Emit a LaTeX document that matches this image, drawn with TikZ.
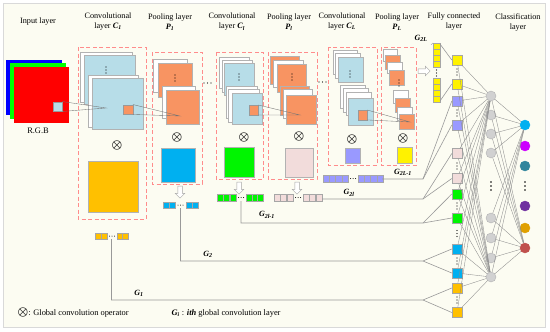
\documentclass[tikz,border=0pt]{standalone}
\usepackage{fontspec}
\setmainfont{Liberation Serif}
\usetikzlibrary{shapes.arrows}

\definecolor{bgcream}{RGB}{252,252,242}
\definecolor{lblue}{RGB}{183,221,232}
\definecolor{salmon}{RGB}{248,148,98}
\definecolor{gold}{RGB}{255,192,0}
\definecolor{skyb}{RGB}{0,176,240}
\definecolor{lgreen}{RGB}{0,245,0}
\definecolor{lpink}{RGB}{242,220,219}
\definecolor{lpurple}{RGB}{153,153,255}
\definecolor{oteal}{RGB}{49,133,156}
\definecolor{omag}{RGB}{204,0,255}
\definecolor{opurp}{RGB}{112,48,160}
\definecolor{ogold}{RGB}{224,160,0}
\definecolor{ored}{RGB}{192,80,77}

\newcommand{\bi}[2]{\textbf{\textit{#1}}\textsubscript{\textbf{\textit{#2}}}}
\newcommand{\vdts}[2]{\fill[black] (#1,#2-3) circle (0.6pt) (#1,#2) circle (0.6pt) (#1,#2+3) circle (0.6pt);}
\newcommand{\hdts}[2]{\fill[black] (#1-2.5,#2) circle (0.5pt) (#1,#2) circle (0.5pt) (#1+2.5,#2) circle (0.5pt);}

\begin{document}
\begin{tikzpicture}[x=1pt,y=-1pt,
	fmap/.style={draw=black!30,line width=0.4pt},
	dashbox/.style={draw=red!45,line width=0.8pt,dash pattern=on 4pt off 2.5pt},
	cell/.style={draw=black!35,line width=0.35pt},
	fcb/.style={rectangle,draw=black!35,line width=0.4pt,minimum size=10pt,inner sep=0pt},
	neu/.style={circle,fill=black!18,draw=black!30,line width=0.4pt,minimum size=10pt,inner sep=0pt},
	rf/.style={rectangle,draw=black!40,line width=0.4pt,minimum size=9.5pt,inner sep=0pt},
	rfl/.style={draw=black!55,line width=0.35pt},
	nl/.style={draw=black!45,line width=0.35pt},
	gl/.style={draw=black!40,line width=0.6pt},
	ttl/.style={align=center,font=\fontsize{8.2}{10}\selectfont},
	lab/.style={font=\fontsize{8.4}{10}\selectfont},
	glab/.style={font=\fontsize{8}{10}\selectfont},
	op/.style={font=\large\boldmath,inner sep=0pt},
	garrow/.style={single arrow,draw=black!35,fill=white,line width=0.5pt,inner sep=2pt,
		minimum height=12pt,single arrow head extend=2.5pt,single arrow head indent=0pt}]
	\useasboundingbox (0,0) rectangle (550,332);
	\fill[white] (0,0) rectangle (550,332);
	\filldraw[fill=bgcream,draw=black!15,line width=0.8pt] (3,3) rectangle (545,327);
	
	% titles
	\node[ttl] (tin) at (38,22) {Input layer};
	\node[ttl] (tc1) at (108,22) {Convolutional\\layer \bi{C}{1}};
	\node[ttl] (tp1) at (170,22) {Pooling layer\\\bi{P}{1}};
	\node[ttl] (tcl) at (232,22) {Convolutional\\layer \bi{C}{l}};
	\node[ttl] (tpl) at (289,22) {Pooling layer\\\bi{P}{l}};
	\node[ttl] (tcL) at (342,22) {Convolutional\\layer \bi{C}{L}};
	\node[ttl] (tpL) at (397,22) {Pooling layer\\\bi{P}{L}};
	\node[ttl] (tfc) at (454,22) {Fully connected\\layer};
	\node[ttl] (tcl) at (518,22) {Classification\\layer};
	
	% input layer
	\fill[blue] (6,60) rectangle (62,115);
	\fill[green] (10,63) rectangle (66,119);
	\fill[red] (14,67) rectangle (69,123);
	\node[rf,fill=lblue] (rf0) at (57.5,106.5) {};
	\node[lab] (rgb) at (38,131) {R.G.B};
	
	% convolutional layer C1
	\draw[dashbox] (78,47) rectangle (146,219);
	\filldraw[fmap,fill=white] (80,52) rectangle (132,102);
	\filldraw[fmap,fill=lblue] (84,55) rectangle (135,104);
	\vdts{106}{70}
	\filldraw[fmap,fill=white] (88,75) rectangle (138,127);
	\filldraw[fmap,fill=lblue] (92,78) rectangle (143,129);
	\node[rf,fill=salmon] (rf1) at (128,109.5) {};
	\node[op] (x1) at (117,145) {$\otimes$};
	\filldraw[fmap,fill=gold] (88,161) rectangle (138,212);
	
	% pooling layer P1
	\draw[dashbox] (152,52) rectangle (202,184);
	\filldraw[fmap,fill=white] (153,59) rectangle (187,92);
	\filldraw[fmap,fill=salmon] (158,63) rectangle (192,97);
	\vdts{175}{78}
	\filldraw[fmap,fill=white] (162,86) rectangle (195,118);
	\filldraw[fmap,fill=salmon] (166,90) rectangle (199,124);
	\node[op] (x2) at (177,137) {$\otimes$};
	\filldraw[fmap,fill=skyb] (161,148) rectangle (195,182);
	\fill[black] (204,83) circle (0.7pt) (207.5,83) circle (0.7pt) (211,83) circle (0.7pt);
	
	% convolutional layer Cl
	\draw[dashbox] (216,52) rectangle (263,179);
	\filldraw[fmap,fill=white] (219,57) rectangle (249,88);
	\filldraw[fmap,fill=white] (222,60) rectangle (252,92);
	\filldraw[fmap,fill=lblue] (224,63) rectangle (254,95);
	\vdts{239}{77}
	\filldraw[fmap,fill=white] (226,86) rectangle (257,118);
	\filldraw[fmap,fill=white] (228,89) rectangle (259,122);
	\filldraw[fmap,fill=lblue] (232,93) rectangle (262,124);
	\node[rf,fill=salmon] (rf2) at (253.5,110) {};
	\node[op] (x3) at (244,137) {$\otimes$};
	\filldraw[fmap,fill=lgreen] (224,147) rectangle (254,177);
	
	% pooling layer Pl
	\draw[dashbox] (268,52) rectangle (317,179);
	\filldraw[fmap,fill=salmon] (270,56) rectangle (299,84);
	\filldraw[fmap,fill=white] (273,60) rectangle (303,87);
	\filldraw[fmap,fill=salmon] (277,64) rectangle (306,92);
	\vdts{292}{77}
	\filldraw[fmap,fill=salmon] (280,86) rectangle (309,115);
	\filldraw[fmap,fill=white] (283,89) rectangle (312,118);
	\filldraw[fmap,fill=salmon] (286,95) rectangle (316,124);
	\node[op] (x4) at (299,136) {$\otimes$};
	\filldraw[fmap,fill=lpink] (285,148) rectangle (313,177);
	\fill[black] (319,82) circle (0.7pt) (322.5,82) circle (0.7pt) (326,82) circle (0.7pt);
	
	% convolutional layer CL
	\draw[dashbox] (328,47) rectangle (377,165);
	\filldraw[fmap,fill=white] (333,50) rectangle (357,74);
	\filldraw[fmap,fill=white] (335,53) rectangle (360,78);
	\filldraw[fmap,fill=lblue] (338,57) rectangle (363,82);
	\vdts{350}{74}
	\filldraw[fmap,fill=white] (340,85) rectangle (365,108);
	\filldraw[fmap,fill=white] (343,88) rectangle (368,112);
	\filldraw[fmap,fill=white] (346,92) rectangle (371,115);
	\filldraw[fmap,fill=lblue] (348,98) rectangle (373,125);
	\node[rf,fill=salmon] (rf3) at (362.5,115) {};
	\node[op] (x5) at (352,139) {$\otimes$};
	\filldraw[fmap,fill=lpurple] (345,148) rectangle (360,163);
	
	% pooling layer PL
	\draw[dashbox] (381,47) rectangle (416,165);
	\filldraw[fmap,fill=white] (383,49) rectangle (397,61);
	\filldraw[fmap,fill=salmon] (385,55) rectangle (400,69);
	\filldraw[fmap,fill=white] (387,62) rectangle (402,73);
	\filldraw[fmap,fill=salmon] (389,70) rectangle (404,85);
	\vdts{399}{83}
	\filldraw[fmap,fill=white] (393,90) rectangle (408,103);
	\filldraw[fmap,fill=salmon] (395,98) rectangle (410,112);
	\filldraw[fmap,fill=white] (397,107) rectangle (412,120);
	\filldraw[fmap,fill=salmon] (399,114) rectangle (414,129);
	\node[op] (x6) at (403,138) {$\otimes$};
	\filldraw[fmap,fill=yellow] (397,147) rectangle (412,163);
	
	% receptive field lines
	\coordinate (t0) at (106,108);
	\coordinate (t1) at (180,116);
	\coordinate (t2) at (300,115);
	\coordinate (t3) at (410,122);
	\draw[rfl] (rf0.north east) -- (t0) -- (rf0.south east);
	\draw[rfl] (rf1.north east) -- (t1) -- (rf1.south east);
	\draw[rfl] (rf2.north east) -- (t2) -- (rf2.south east);
	\draw[rfl] (rf3.north east) -- (t3) -- (rf3.south east);
	
	% arrows to vectors
	\node[garrow,rotate=-90] (a1) at (180,191) {};
	\node[garrow,rotate=-90] (a2) at (239,187) {};
	\node[garrow,rotate=-90] (a3) at (297,187) {};
	\node[garrow] (a4) at (423,71) {};
	
	% global vectors
	\foreach \i in {95,101,117,122} \filldraw[cell,fill=gold] (\i,233) rectangle ++(6,6);
	\hdts{112}{236}
	\foreach \i in {163,169,186,192} \filldraw[cell,fill=skyb] (\i,202) rectangle ++(6,6);
	\hdts{180.5}{205}
	\foreach \i in {217,223.3,229.7,246,251.7,257.3} \filldraw[cell,fill=lgreen] (\i,194) rectangle ++(6.3,7);
	\hdts{241}{197.5}
	\foreach \i in {274,280.3,286.7,303,309.3,315.7} \filldraw[cell,fill=lpink] (\i,194) rectangle ++(6.3,7);
	\hdts{298}{197.5}
	\foreach \i in {323,329.25,335.5,341.75,358,364.25,370.5,376.75} \filldraw[cell,fill=lpurple] (\i,175) rectangle ++(6.25,7);
	\hdts{353}{178.5}
	\foreach \j in {43,49,55,61,78,84,90,96} \filldraw[cell,fill=yellow] (433,\j) rectangle ++(7,6);
	\vdts{436.5}{73}
	\coordinate (vg1) at (111.5,239);
	\coordinate (vg2) at (180.5,208);
	\coordinate (vg3) at (241,201);
	\coordinate (vg4) at (322,199);
	\coordinate (vg5) at (382,179);
	\coordinate (vg6) at (440,44);
	\coordinate (vg7) at (440,101);
	
	% fully connected layer
	\foreach \n/\y/\c in {1/60/yellow,2/84/yellow,3/101/lpurple,4/125/lpurple,5/153.5/lpink,6/178.5/lpink,
		7/194/lgreen,8/218/lgreen,9/249/skyb,10/273/skyb,11/288/gold,12/312.5/gold}
	\node[fcb,fill=\c] (f\n) at (457,\y) {};
	\foreach \y in {72,113,166,206,233.5,261,300} {\vdts{457}{\y}}
	
	% hidden and output neurons
	\foreach \n/\y in {1/96,2/115,3/134,4/153,5/218,6/238,7/258,8/277}
	\node[neu] (h\n) at (491,\y) {};
	\foreach \n/\y/\c in {1/125/skyb,2/146/omag,3/166/oteal,4/206/opurp,5/228/ogold,6/248/ored}
	\node[neu,fill=\c,draw=\c] (o\n) at (525,\y) {};
	\fill[black] (491,182) circle (0.8pt) (491,186) circle (0.8pt) (491,190) circle (0.8pt);
	\fill[black] (525,182) circle (0.8pt) (525,186) circle (0.8pt) (525,190) circle (0.8pt);
	\foreach \n in {1,...,12} \draw[nl] (f\n) -- (h1) (f\n) -- (h8);
	\foreach \n in {1,...,8} \draw[nl] (h\n) -- (o1) (h\n) -- (o6);
	
	% global convolution connections
	\coordinate (j1) at (423,300);
	\coordinate (j2) at (423,261);
	\coordinate (j3) at (423,223);
	\coordinate (j4) at (423,199);
	\coordinate (j5) at (423,179);
	\draw[gl] (vg1) |- (j1) -- (f11.west);
	\draw[gl] (j1) -- (f12.west);
	\draw[gl] (vg2) |- (j2) -- (f9.west);
	\draw[gl] (j2) -- (f10.west);
	\draw[gl] (vg3) |- (j3) -- (f7.west);
	\draw[gl] (j3) -- (f8.west);
	\draw[gl] (vg4) -- (j4) -- (f5.west);
	\draw[gl] (j4) -- (f6.west);
	\draw[gl] (vg5) -- (j5) -- (f3.west);
	\draw[gl] (j5) -- (f4.west);
	\draw[gl] (vg6) -- (f1.west);
	\draw[gl] (vg7) -- (f2.west);
	
	% labels
	\node[glab] (lg1) at (139,293) {\bi{G}{1}};
	\node[glab] (lg2) at (208,254) {\bi{G}{2}};
	\node[glab] (lg3) at (267,215) {\bi{G}{2l-1}};
	\node[glab] (lg4) at (349,193) {\bi{G}{2l}};
	\node[glab] (lg5) at (403,172) {\bi{G}{2L-1}};
	\node[glab] (lg6) at (421,38) {\bi{G}{2L}};
	\coordinate (vyt) at (433,43);
	\draw[gl,line width=0.4pt] (lg6.south east) -- (vyt);
	
	% legend
	\node[lab,anchor=west] (leg1) at (14,313) {{\large\boldmath$\otimes$}: Global convolution operator};
	\node[lab,anchor=west] (leg2) at (168,313) {\bi{G}{i} : \textbf{\textit{ith}} global convolution layer};
\end{tikzpicture}
\end{document}
